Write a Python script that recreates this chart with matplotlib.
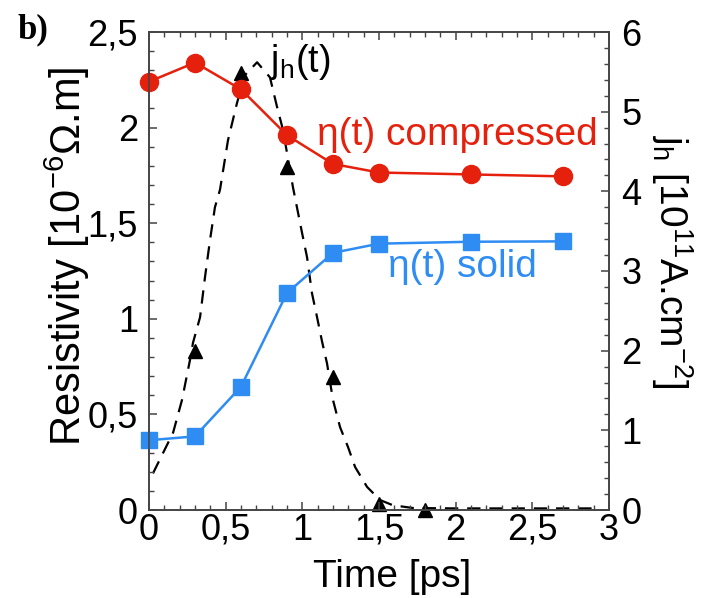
import matplotlib
matplotlib.use('Agg')
import matplotlib.pyplot as plt
from matplotlib.ticker import MultipleLocator, FuncFormatter

W, H = 706, 598
plt.rcParams['font.family'] = ['Liberation Sans', 'DejaVu Sans']
plt.rcParams['mathtext.fontset'] = 'custom'
plt.rcParams['mathtext.rm'] = 'Liberation Sans'
plt.rcParams['mathtext.it'] = 'Liberation Sans:italic'

# ---- data ----
t_eta = [0.0, 0.3, 0.6, 0.9, 1.2, 1.5, 2.1, 2.7]
eta_compressed = [2.24, 2.34, 2.20, 1.96, 1.81, 1.765, 1.755, 1.745]
eta_solid = [0.365, 0.385, 0.645, 1.135, 1.345, 1.393, 1.403, 1.405]

t_jh = [0.3, 0.6, 0.9, 1.2, 1.5, 1.8]
jh = [1.99, 5.48, 4.30, 1.67, 0.075, 0.0]

t_fit = [0.026, 0.157, 0.215, 0.267, 0.287, 0.333, 0.365, 0.398, 0.43, 0.463,
         0.515, 0.574, 0.626, 0.705, 0.789, 0.835, 0.874, 0.939, 0.998, 1.031,
         1.063, 1.096, 1.128, 1.161, 1.20, 1.246, 1.298, 1.344, 1.422, 1.507,
         1.59, 1.72, 2.0, 2.5, 2.94]
jh_fit = [0.46, 0.97, 1.38, 1.88, 2.10, 2.42, 2.92, 3.39, 3.80, 4.02,
          4.64, 5.11, 5.46, 5.62, 5.43, 5.06, 4.77, 4.05, 3.48, 3.17,
          2.72, 2.42, 2.12, 1.84, 1.38, 1.04, 0.79, 0.54, 0.29, 0.125,
          0.06, 0.025, 0.02, 0.02, 0.02]

x_ticks = [0, 0.5, 1, 1.5, 2, 2.5, 3]
y_ticks = [0, 0.5, 1, 1.5, 2, 2.5]
y2_ticks = [0, 1, 2, 3, 4, 5, 6]

RED = '#E5200C'
BLUE = '#2E8CF2'
SPINE = '#444444'

fig = plt.figure(figsize=(W / 100, H / 100), dpi=100)
ax = fig.add_axes([149 / W, 1 - 510 / H, (609 - 149) / W, (510 - 32) / H])
ax2 = ax.twinx()
ax.set_zorder(2)
ax2.set_zorder(1)
ax.patch.set_visible(False)

comma = FuncFormatter(lambda v, p: ('%g' % v).replace('.', ','))

# j_h on right axis
ax2.plot(t_fit, jh_fit, color='black', lw=1.6, linestyle=(0, (6, 4)), clip_on=False)
ax2.plot(t_jh, jh, linestyle='none', marker='^', color='black', ms=10, clip_on=False)

# resistivities
ax.plot(t_eta, eta_compressed, color=RED, lw=1.8, marker='o', ms=13, clip_on=False)
ax.plot(t_eta, eta_solid, color=BLUE, lw=1.8, marker='s', ms=12, clip_on=False)

ax.set_xlim(0, 3)
ax.set_ylim(0, 2.5)
ax2.set_ylim(0, 6)
ax.set_xticks(x_ticks)
ax.set_yticks(y_ticks)
ax2.set_yticks(y2_ticks)
ax.xaxis.set_minor_locator(MultipleLocator(0.1))
ax.yaxis.set_minor_locator(MultipleLocator(0.1))
ax2.yaxis.set_minor_locator(MultipleLocator(0.2))
ax.xaxis.set_major_formatter(comma)
ax.yaxis.set_major_formatter(comma)
ax2.yaxis.set_major_formatter(comma)

for a in (ax, ax2):
    for s in a.spines.values():
        s.set_color(SPINE)
        s.set_linewidth(1.2)

ax.tick_params(axis='x', which='both', direction='in', top=True, bottom=True,
               colors=SPINE, labelcolor='black', labelsize=26, pad=2)
ax.tick_params(axis='y', which='both', direction='in', left=True, right=False,
               colors=SPINE, labelcolor='black', labelsize=26, pad=8)
ax2.tick_params(axis='y', which='both', direction='in', right=True,
                colors=SPINE, labelcolor='black', labelsize=26, pad=9)
for a in (ax, ax2):
    a.tick_params(which='major', length=6, width=1.1)
    a.tick_params(which='minor', length=3.5, width=1.0)

def px(x, y):
    return x / W, 1 - y / H

fig.text(*px(67, 256), 'Resistivity [10$^{\\mathregular{-6}}$\u03a9.m]', rotation=90,
         ha='center', va='center', fontsize=30)
fig.text(*px(672, 262), 'j$_{\\mathregular{h}}$ [10$^{\\mathregular{11}}$A.cm$^{\\mathregular{-2}}$]',
         rotation=270, ha='center', va='center', fontsize=28)
fig.text(*px(392, 577), 'Time [ps]', ha='center', va='center', fontsize=28)
fig.text(*px(17, 30), 'b)', ha='left', va='center', fontsize=25,
         fontweight='bold', family='Liberation Serif')

fig.text(*px(270, 62), 'j$_{\\mathregular{h}}$(t)', ha='left', va='center', fontsize=27)
fig.text(*px(317, 135), '\u03b7(t) compressed', ha='left', va='center', fontsize=28, color=RED)
fig.text(*px(388, 267), '\u03b7(t) solid', ha='left', va='center', fontsize=28, color=BLUE)

fig.savefig('out.png', dpi=100)
